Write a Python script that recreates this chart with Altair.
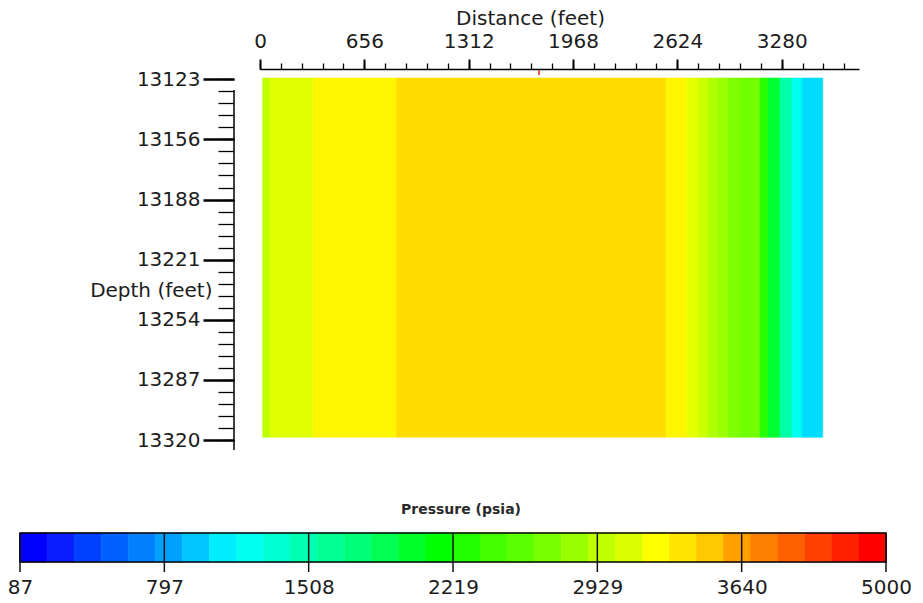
import altair as alt
import numpy as np
import pandas as pd

# ---- cross-section data -------------------------------------------------
# Column edges along the section (feet) and the pressure in each column (psia)
col_edges_ft = [17, 63, 336.5, 861.5, 2553, 2685.5, 2754.5, 2817.5, 2880.5,
                2943.5, 3018.5, 3144.5, 3195, 3270.5, 3345.5, 3408.5, 3539]
col_pressure_psia = [2951, 3110, 3271, 3391, 3271, 3130, 3018, 2898, 2822,
                     2720, 2660, 2317, 1992, 1519, 1210, 1023]
layer_top_ft = 13122.65
layer_base_ft = 13318.7

# well marker on the distance axis (feet)
marker_ft = [1755]

# ---- axes ---------------------------------------------------------------
dist_ticks_ft = [0, 656.17, 1312.34, 1968.5, 2624.67, 3280.84]
dist_minor_step_ft = 131.234
depth_ticks_ft = [13123.36, 13156.17, 13188.98, 13221.78, 13254.59, 13287.40, 13320.21]
depth_minor_step_ft = 6.5617
depth_axis_span_ft = [13129.2, 13325.7]

# ---- colour bar ---------------------------------------------------------
colorbar_ticks_psia = [87, 797, 1508, 2219, 2929, 3640, 5000]
swatch_colors = [
    "#0000FF", "#0A1EFF", "#0040FF", "#0060FF", "#0080FF", "#00A0FF", "#00C8FF", "#00EEFF",
    "#00FFF0", "#00FFD0", "#00FFB0", "#00FF90", "#00FF78", "#00FF50", "#00FF28", "#00FF00",
    "#22FF00", "#44FF00", "#5CFF00", "#77FF00", "#99FF00", "#BFFF00", "#D9FF00", "#FFFF00",
    "#FFE500", "#FFC800", "#FFA000", "#FF8000", "#FF6000", "#FF4000", "#FF2000", "#FF0000",
]
colorbar_title = "Pressure (psia)"

FONT = "DejaVu Sans"
INK = "#1c1c1c"

# geometry of the page (pixels)
BAR_X0, BAR_X1, BAR_Y0, BAR_Y1 = 20, 886, 533, 562
n_sw = len(swatch_colors)
n_iv = len(colorbar_ticks_psia) - 1
tick_px = list(np.linspace(BAR_X0, BAR_X1, n_iv + 1))
# pressure at the centre of each swatch (colour bar is evenly spaced between labels)
swatch_mid_psia = list(np.interp((np.arange(n_sw) + 0.5) * n_iv / n_sw,
                                 np.arange(n_iv + 1), colorbar_ticks_psia))

dist_minor = [round(i * dist_minor_step_ft, 2) for i in range(29)]
depth_minor = [round(depth_ticks_ft[0] + i * depth_minor_step_ft, 2) for i in range(31)]

x_dist = alt.Scale(domain=[0, 3767], range=[260, 859], zero=False, nice=False)
y_depth = alt.Scale(domain=[13122.65, 13330.0], range=[78, 458], zero=False, nice=False)
press_scale = alt.Scale(domain=swatch_mid_psia, range=swatch_colors, interpolate="rgb",
                        zero=False, nice=False)

heat_df = pd.DataFrame({
    "x0": col_edges_ft[:-1],
    "x1": col_edges_ft[1:],
    "top": layer_top_ft,
    "base": layer_base_ft,
    "pressure": col_pressure_psia,
})

heat = alt.Chart(heat_df).mark_rect(strokeWidth=0.6).encode(
    x=alt.X("x0:Q", scale=x_dist, axis=alt.Axis(
        orient="top", offset=-69, values=dist_ticks_ft, labelExpr="floor(datum.value)",
        tickSize=10, tickWidth=2, tickColor="black", domainColor="black", domainWidth=1.5,
        labelFont=FONT, labelFontSize=20, labelColor=INK, labelPadding=8,
        labelFlush=False, labelOverlap=False, grid=False,
        title="Distance (feet)", titleX=530, titleY=-51, titleAlign="center",
        titleBaseline="middle", titleAngle=0, titleFont=FONT, titleFontSize=20,
        titleFontWeight="normal", titleColor=INK)),
    x2="x1:Q",
    y=alt.Y("top:Q", scale=y_depth, axis=alt.Axis(
        orient="left", offset=-234, values=depth_ticks_ft, labelExpr="floor(datum.value)",
        tickSize=31, tickWidth=2.5, tickColor="black", domain=False,
        labelFont=FONT, labelFontSize=20, labelColor=INK, labelPadding=3,
        labelFlush=False, labelOverlap=False, grid=False,
        title="Depth (feet)", titleX=-22, titleY=290, titleAlign="right",
        titleBaseline="middle", titleAngle=0, titleFont=FONT, titleFontSize=20,
        titleFontWeight="normal", titleColor=INK)),
    y2="base:Q",
    color=alt.Color("pressure:Q", scale=press_scale, legend=None),
    stroke=alt.Stroke("pressure:Q", scale=press_scale, legend=None),
)

# red well marker + minor ticks of the distance axis
marker = alt.Chart(pd.DataFrame({"ft": marker_ft})).mark_rule(
    color="#E3261C", strokeWidth=1.5).encode(
    x=alt.X("ft:Q", scale=x_dist, axis=alt.Axis(
        orient="top", offset=-69, values=dist_minor, tickSize=6, tickWidth=1.3,
        tickColor="black", labels=False, domain=False, grid=False, title=None)),
    y=alt.value(70), y2=alt.value(75),
)

# depth axis line + its minor ticks
depth_line = alt.Chart(pd.DataFrame({"d0": [depth_axis_span_ft[0]],
                                     "d1": [depth_axis_span_ft[1]]})).mark_rule(
    color="black", strokeWidth=1.5).encode(
    x=alt.value(234),
    y=alt.Y("d0:Q", scale=y_depth, axis=alt.Axis(
        orient="left", offset=-234, values=depth_minor, tickSize=16, tickWidth=1.3,
        tickColor="black", labels=False, domain=False, grid=False, title=None)),
    y2="d1:Q",
)

# colour bar swatches
sw_df = pd.DataFrame({"i0": list(range(n_sw)), "i1": list(range(1, n_sw + 1)),
                      "c": swatch_colors})
swatches = alt.Chart(sw_df).mark_rect(strokeWidth=0.6).encode(
    x=alt.X("i0:Q", scale=alt.Scale(domain=[0, n_sw], range=[BAR_X0, BAR_X1],
                                    zero=False, nice=False), axis=None),
    x2="i1:Q",
    y=alt.value(BAR_Y0), y2=alt.value(BAR_Y1),
    color=alt.Color("c:N", scale=None),
    stroke=alt.Stroke("c:N", scale=None),
)

frame = alt.Chart(pd.DataFrame({"k": [0]})).mark_rect(
    fillOpacity=0, stroke="black", strokeWidth=1.5).encode(
    x=alt.value(BAR_X0), x2=alt.value(BAR_X1), y=alt.value(BAR_Y0), y2=alt.value(BAR_Y1))

# colour bar tick lines and labels
cb_ticks = alt.Chart(pd.DataFrame({"p": colorbar_ticks_psia})).mark_rule(
    color="#111111", strokeWidth=1.5).encode(
    x=alt.X("p:Q", scale=alt.Scale(domain=colorbar_ticks_psia, range=tick_px,
                                   zero=False, nice=False),
            axis=alt.Axis(orient="bottom", offset=-31, values=colorbar_ticks_psia,
                          format="d", ticks=False, domain=False, grid=False,
                          labelFont=FONT, labelFontSize=20, labelColor=INK,
                          labelPadding=5, labelFlush=False, labelOverlap=False,
                          title=None)),
    y=alt.value(BAR_Y0), y2=alt.value(572),
)

cb_title = alt.Chart(pd.DataFrame({"t": [colorbar_title]})).mark_text(
    font=FONT, fontSize=14, fontWeight="bold", color="#2a2a2a",
    baseline="middle", align="center").encode(
    text="t:N", x=alt.value(461), y=alt.value(510))

chart = alt.layer(
    heat, marker, depth_line, swatches, frame, cb_ticks, cb_title
).resolve_scale(
    x="independent", y="independent", color="independent", stroke="independent"
).properties(
    width=923, height=603, padding=0,
    autosize=alt.AutoSizeParams(type="none"),
    background="white",
).configure_view(stroke=None).configure_axis(grid=False)

chart.save("out.html", embed_options={"renderer": "svg", "actions": False})
